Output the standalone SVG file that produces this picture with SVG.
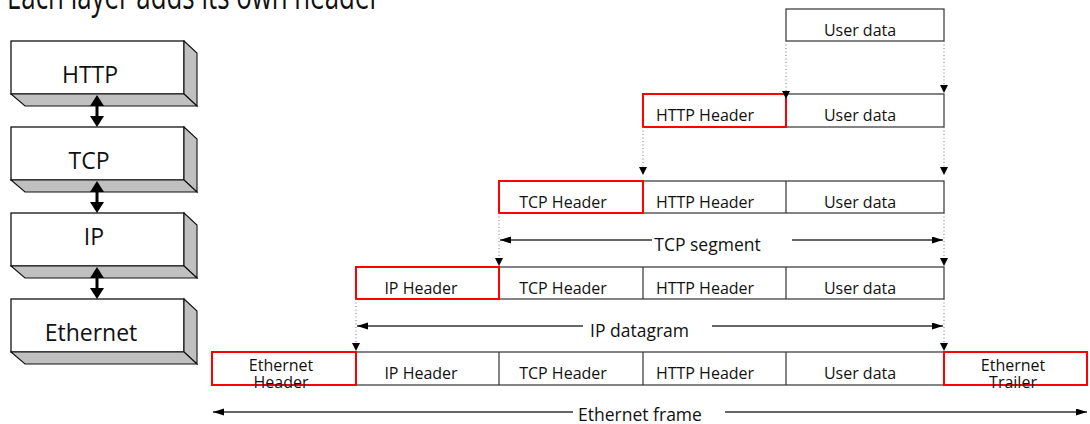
<svg xmlns="http://www.w3.org/2000/svg" width="1090" height="424" viewBox="0 0 1090 424">
<style>
  text { font-family: "Open Sans", "Liberation Sans", sans-serif; fill: #111; }
  .title { font-size: 36px; }
  .layer { font-size: 23px; text-anchor: middle; }
  .cell { font-size: 16px; text-anchor: middle; }
  .span { font-size: 17.5px; text-anchor: middle; }
  .front { fill: #fff; stroke: #111; stroke-width: 1.3; }
  .shade { fill: #c0c0c0; stroke: #111; stroke-width: 1.1; }
  .box { fill: #fff; stroke: #333; stroke-width: 1.2; }
  .hdr { fill: none; stroke: #f00; stroke-width: 2; }
  .dot { fill: none; stroke: #777; stroke-width: 1; stroke-dasharray: 1 2.5; }
  .spanline { fill: none; stroke: #333; stroke-width: 1.5; }
  .dbl { fill: none; stroke: #000; stroke-width: 3; }
</style>
<defs>
  <marker id="tri" markerUnits="userSpaceOnUse" markerWidth="10" markerHeight="8" refX="8" refY="4" orient="auto">
    <path d="M0,0 L8,4 L0,8 Z" fill="#000"/>
  </marker>
  <marker id="spanHead" markerUnits="userSpaceOnUse" markerWidth="12" markerHeight="8" refX="11" refY="3.5" orient="auto-start-reverse">
    <path d="M0,0 L11,3.5 L0,7 Z" fill="#000"/>
  </marker>
  <marker id="bigHead" markerUnits="userSpaceOnUse" markerWidth="14" markerHeight="14" refX="5" refY="7" orient="auto-start-reverse">
    <path d="M0,0 L11,7 L0,14 Z" fill="#000"/>
  </marker>
  <g id="slab">
    <rect class="front" x="11" y="0" width="173" height="53"/>
    <polygon class="shade" points="184,0 197,12 197,65 184,53"/>
    <polygon class="shade" points="11,53 184,53 197,65 25,65"/>
  </g>
</defs>

<text class="title" x="7" y="9" textLength="373" lengthAdjust="spacingAndGlyphs">Each layer adds its own header</text>

<!-- Layer stack -->
<g id="layer-http">
  <use href="#slab" transform="translate(0,41)"/>
  <text class="layer" x="90" y="83">HTTP</text>
</g>
<g id="layer-tcp">
  <use href="#slab" transform="translate(0,127)"/>
  <text class="layer" x="89" y="169">TCP</text>
</g>
<g id="layer-ip">
  <use href="#slab" transform="translate(0,213)"/>
  <text class="layer" x="94" y="245">IP</text>
</g>
<g id="layer-ethernet">
  <use href="#slab" transform="translate(0,299)"/>
  <text class="layer" x="91" y="341">Ethernet</text>
</g>

<!-- Encapsulation rows -->
<g id="row-user">
  <rect class="box" x="786" y="9" width="158" height="32"/>
  <text class="cell" x="860" y="36">User data</text>
</g>
<g id="row-http">
  <rect class="box" x="643" y="94" width="301" height="33"/>
  <line class="box" x1="786" y1="94" x2="786" y2="127"/>
  <rect class="hdr" x="643" y="94" width="143" height="33"/>
  <text class="cell" x="705" y="121">HTTP Header</text>
  <text class="cell" x="860" y="121">User data</text>
</g>
<g id="row-tcp">
  <rect class="box" x="499" y="181" width="445" height="32"/>
  <line class="box" x1="643" y1="181" x2="643" y2="213"/>
  <line class="box" x1="786" y1="181" x2="786" y2="213"/>
  <rect class="hdr" x="499" y="181" width="144" height="32"/>
  <text class="cell" x="563" y="208">TCP Header</text>
  <text class="cell" x="705" y="208">HTTP Header</text>
  <text class="cell" x="860" y="208">User data</text>
</g>
<g id="row-ip">
  <rect class="box" x="356" y="267" width="588" height="32"/>
  <line class="box" x1="499" y1="267" x2="499" y2="299"/>
  <line class="box" x1="643" y1="267" x2="643" y2="299"/>
  <line class="box" x1="786" y1="267" x2="786" y2="299"/>
  <rect class="hdr" x="356" y="267" width="143" height="32"/>
  <text class="cell" x="421" y="294">IP Header</text>
  <text class="cell" x="563" y="294">TCP Header</text>
  <text class="cell" x="705" y="294">HTTP Header</text>
  <text class="cell" x="860" y="294">User data</text>
</g>
<g id="row-ethernet">
  <rect class="box" x="212" y="352" width="875" height="33"/>
  <line class="box" x1="499" y1="352" x2="499" y2="385"/>
  <line class="box" x1="643" y1="352" x2="643" y2="385"/>
  <line class="box" x1="786" y1="352" x2="786" y2="385"/>
  <rect class="hdr" x="212" y="352" width="144" height="33"/>
  <rect class="hdr" x="944" y="352" width="143" height="33"/>
  <text class="cell" x="281" y="371">Ethernet</text>
  <text class="cell" x="281" y="388">Header</text>
  <text class="cell" x="421" y="379">IP Header</text>
  <text class="cell" x="563" y="379">TCP Header</text>
  <text class="cell" x="705" y="379">HTTP Header</text>
  <text class="cell" x="860" y="379">User data</text>
  <text class="cell" x="1013" y="371">Ethernet</text>
  <text class="cell" x="1013" y="388">Trailer</text>
</g>

<!-- Connectors -->
<g id="connectors">
  <line class="dbl" x1="97" y1="101" x2="97" y2="121" marker-start="url(#bigHead)" marker-end="url(#bigHead)"/>
  <line class="dbl" x1="97" y1="187" x2="97" y2="207" marker-start="url(#bigHead)" marker-end="url(#bigHead)"/>
  <line class="dbl" x1="97" y1="273" x2="97" y2="293" marker-start="url(#bigHead)" marker-end="url(#bigHead)"/>

  <line class="dot" x1="786" y1="41" x2="786" y2="99" marker-end="url(#tri)"/>
  <line class="dot" x1="944" y1="41" x2="944" y2="93" marker-end="url(#tri)"/>
  <line class="dot" x1="643" y1="127" x2="643" y2="175" marker-end="url(#tri)"/>
  <line class="dot" x1="944" y1="127" x2="944" y2="175" marker-end="url(#tri)"/>
  <line class="dot" x1="499" y1="213" x2="499" y2="266" marker-end="url(#tri)"/>
  <line class="dot" x1="944" y1="213" x2="944" y2="266" marker-end="url(#tri)"/>
  <line class="dot" x1="356" y1="299" x2="356" y2="351" marker-end="url(#tri)"/>
  <line class="dot" x1="944" y1="299" x2="944" y2="351" marker-end="url(#tri)"/>

  <line class="spanline" x1="500" y1="240" x2="652" y2="240" marker-start="url(#spanHead)"/>
  <line class="spanline" x1="792" y1="240" x2="943" y2="240" marker-end="url(#spanHead)"/>
  <line class="spanline" x1="357" y1="326" x2="583" y2="326" marker-start="url(#spanHead)"/>
  <line class="spanline" x1="712" y1="326" x2="943" y2="326" marker-end="url(#spanHead)"/>
  <line class="spanline" x1="213" y1="412" x2="573" y2="412" marker-start="url(#spanHead)"/>
  <line class="spanline" x1="725" y1="412" x2="1087" y2="412" marker-end="url(#spanHead)"/>
</g>
<text class="span" x="707.5" y="251">TCP segment</text>
<text class="span" x="639.5" y="337">IP datagram</text>
<text class="span" x="640" y="421">Ethernet frame</text>
</svg>
